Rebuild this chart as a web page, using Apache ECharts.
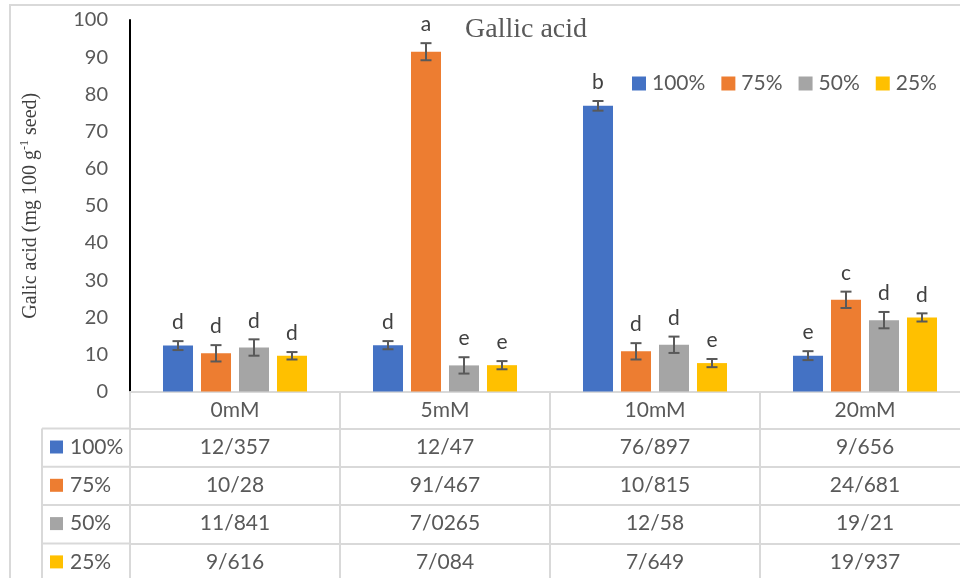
<!DOCTYPE html>
<html>
<head>
<meta charset="utf-8">
<script src="https://cdn.jsdelivr.net/npm/echarts@6/dist/echarts.min.js"></script>
<style>
  html, body { margin: 0; padding: 0; background: #fff; }
  #chart { width: 960px; height: 578px; }
</style>
</head>
<body>
<div id="chart"></div>
<script>
// Gallic acid - 分组柱状图 + 误差线 + 数据表
const categories = ['0mM', '5mM', '10mM', '20mM'];
const levels = ['100%', '75%', '50%', '25%'];

const vals100 = [12.357, 12.47, 76.897, 9.656];
const vals75 = [10.28, 91.467, 10.815, 24.681];
const vals50 = [11.841, 7.0265, 12.58, 19.21];
const vals25 = [9.616, 7.084, 7.649, 19.937];

const err100 = [1.2, 1.1, 1.3, 1.2];
const err75 = [2.2, 2.3, 2.2, 2.2];
const err50 = [2.2, 2.2, 2.2, 2.2];
const err25 = [1.0, 1.1, 1.1, 1.1];

const letters100 = ['d', 'd', 'b', 'e'];
const letters75 = ['d', 'a', 'd', 'c'];
const letters50 = ['d', 'e', 'd', 'd'];
const letters25 = ['d', 'e', 'e', 'd'];

const yTicks = [0, 10, 20, 30, 40, 50, 60, 70, 80, 90, 100];

const seriesVals = [vals100, vals75, vals50, vals25];
const seriesErrs = [err100, err75, err50, err25];
const seriesLetters = [letters100, letters75, letters50, letters25];
const palette = ['#4472C4', '#ED7D31', '#A5A5A5', '#FFC000'];

const FONT = 'Lato, "Open Sans", sans-serif';
const TXT = '#595959';
const LINE = '#d9d9d9';
const BAR_W = 30;
const BAR_GAP = 8;
const GRID = { left: 130, top: 20, width: 840, height: 371.5, outerBoundsMode: 'none' };
const rowOffsets = [37, 75.3, 113.5, 152];

// 表格里的小数点显示为 "/"
const fmt = v => String(v).replace('.', '/');

function errRenderer(k) {
  return function (params, api) {
    const ci = api.value(0);
    const mean = api.value(1);
    const err = api.value(2);
    const x = api.coord([ci, 0])[0] + (k - 1.5) * (BAR_W + BAR_GAP);
    const yTop = api.coord([ci, mean + err])[1];
    const yBot = api.coord([ci, mean - err])[1];
    const st = { stroke: '#595959', lineWidth: 2 };
    return {
      type: 'group',
      children: [
        { type: 'line', shape: { x1: x, y1: yTop, x2: x, y2: yBot }, style: st },
        { type: 'line', shape: { x1: x - 5.5, y1: yTop, x2: x + 5.5, y2: yTop }, style: st },
        { type: 'line', shape: { x1: x - 5.5, y1: yBot, x2: x + 5.5, y2: yBot }, style: st },
        {
          type: 'text',
          style: {
            x: x, y: yTop - 8,
            text: seriesLetters[k][params.dataIndex],
            fill: '#404040', font: '21px ' + FONT,
            align: 'center', verticalAlign: 'bottom'
          }
        }
      ]
    };
  };
}

const chart = echarts.init(document.getElementById('chart'));

const xAxes = [{
  type: 'category',
  data: categories,
  gridIndex: 0,
  axisLine: { lineStyle: { color: LINE, width: 2 } },
  axisTick: { show: true, length: 200, interval: 0, lineStyle: { color: LINE, width: 2 } },
  axisLabel: { color: TXT, fontSize: 21, fontFamily: FONT, margin: 8 },
  splitLine: { show: false }
}];
seriesVals.forEach((vals, k) => {
  xAxes.push({
    type: 'category',
    data: categories,
    gridIndex: 0,
    position: 'bottom',
    offset: rowOffsets[k],
    axisLine: { onZero: false, lineStyle: { color: LINE, width: 2 } },
    axisTick: { show: false },
    axisLabel: {
      color: TXT, fontSize: 21, fontFamily: FONT, margin: 8,
      formatter: (v, i) => fmt(vals[i])
    },
    splitLine: { show: false }
  });
});

const series = [];
seriesVals.forEach((vals, k) => {
  series.push({
    name: levels[k],
    type: 'bar',
    barWidth: BAR_W,
    barGap: (BAR_GAP / BAR_W * 100).toFixed(2) + '%',
    itemStyle: { color: palette[k] },
    data: vals
  });
});
seriesVals.forEach((vals, k) => {
  series.push({
    type: 'custom',
    renderItem: errRenderer(k),
    data: vals.map((v, i) => [i, v, seriesErrs[k][i]]),
    z: 5,
    silent: true
  });
});

const graphic = [
  { type: 'rect', shape: { x: 10, y: 5, width: 980, height: 600 }, style: { fill: 'none', stroke: LINE, lineWidth: 2 }, silent: true },
  { type: 'line', shape: { x1: 42, y1: GRID.top + GRID.height + rowOffsets[0], x2: 42, y2: 600 }, style: { stroke: LINE, lineWidth: 2 } }
];
rowOffsets.forEach(off => {
  const y = GRID.top + GRID.height + off;
  graphic.push({ type: 'line', shape: { x1: 42, y1: y, x2: GRID.left, y2: y }, style: { stroke: LINE, lineWidth: 2 } });
});

chart.setOption({
  backgroundColor: '#fff',
  animation: false,
  title: {
    text: 'Gallic acid',
    left: 460, top: 11,
    textStyle: { fontFamily: '"Liberation Serif", serif', fontSize: 28, fontWeight: 'normal', color: TXT }
  },
  legend: [{
    data: levels,
    left: 632, top: 73, padding: 0,
    itemWidth: 14, itemHeight: 14, itemGap: 16,
    icon: 'rect',
    selectedMode: false,
    textStyle: { color: TXT, fontSize: 21, fontFamily: FONT, padding: [0, 0, 0, 1] }
  }, {
    data: levels,
    orient: 'vertical',
    left: 50, top: 436, height: 200, padding: 0,
    itemWidth: 13, itemHeight: 13, itemGap: 16.3,
    icon: 'rect',
    selectedMode: false,
    textStyle: { color: TXT, fontSize: 21, fontFamily: FONT, lineHeight: 22, padding: [0, 0, 0, 2] }
  }],
  grid: GRID,
  xAxis: xAxes,
  yAxis: {
    type: 'value',
    min: yTicks[0], max: yTicks[yTicks.length - 1], interval: 10,
    name: '{n|Galic acid (mg 100 g}{s|-1}{n| seed)}',
    nameLocation: 'middle',
    nameRotate: 90,
    nameGap: 87,
    nameTextStyle: {
      rich: {
        n: { fontFamily: '"Liberation Serif", serif', fontSize: 20, color: '#404040', lineHeight: 24 },
        s: { fontFamily: '"Liberation Serif", serif', fontSize: 12, color: '#404040', verticalAlign: 'top', lineHeight: 24 }
      }
    },
    axisLine: { show: true, lineStyle: { color: '#000', width: 2 } },
    axisTick: { show: false },
    splitLine: { show: false },
    axisLabel: { color: TXT, fontSize: 20, fontFamily: FONT, margin: 22 }
  },
  graphic,
  series
});
</script>
</body>
</html>
